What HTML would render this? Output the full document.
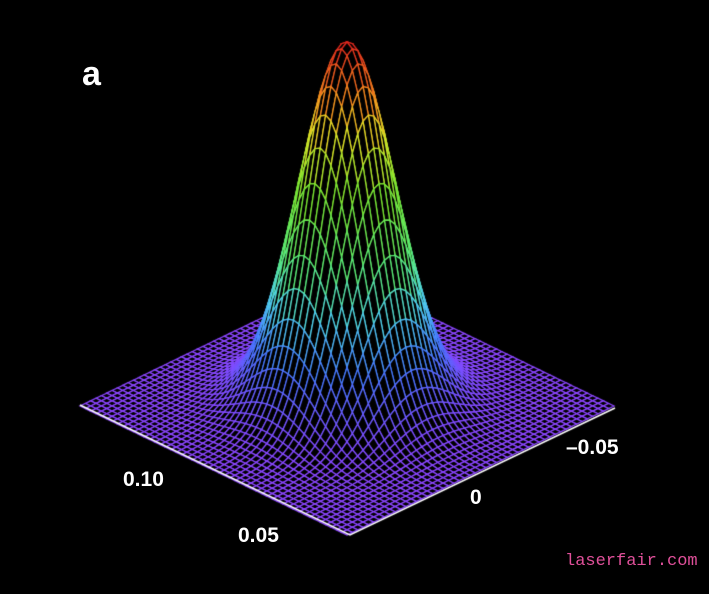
<!DOCTYPE html>
<html><head><meta charset="utf-8">
<style>
html,body{margin:0;padding:0;background:#000;}
#w{position:relative;width:709px;height:594px;overflow:hidden;background:#000;font-family:"Liberation Sans",sans-serif;}
canvas{position:absolute;left:0;top:0;}
.t{position:absolute;color:#fff;font-weight:bold;font-size:21px;}
</style></head><body>
<div id="w">
<canvas id="c" width="709" height="594"></canvas>
<div class="t" style="left:82px;top:55px;font-size:34px;">a</div>
<div class="t" style="left:123px;top:468px;">0.10</div>
<div class="t" style="left:238px;top:524px;">0.05</div>
<div class="t" style="left:470px;top:486px;">0</div>
<div class="t" style="left:566px;top:436px;">–0.05</div>
<div style="position:absolute;left:565px;top:552px;color:#e0509a;font-family:'Liberation Mono',monospace;font-size:17px;">laserfair.com</div>
</div>
<script>
const c=document.getElementById('c').getContext('2d');
const N=50,s=0.26;
function P(u,v){const z=Math.exp(-(u*u+v*v)/(2*s*s));return [347+133.5*(u+v),406+64.5*(u-v)-364*z,z];}
const stops=[[0,[140,70,255]],[0.06,[120,80,255]],[0.18,[70,120,255]],[0.3,[80,210,240]],[0.42,[90,235,120]],[0.6,[120,230,50]],[0.75,[225,230,40]],[0.85,[245,140,30]],[1,[220,30,30]]];
function col(z){for(let i=1;i<stops.length;i++){if(z<=stops[i][0]){const a=stops[i-1],b=stops[i],t=(z-a[0])/(b[0]-a[0]);return 'rgb('+a[1].map((x,k)=>Math.round(x+(b[1][k]-x)*t)).join(',')+')';}}return 'rgb(220,30,30)';}
const q=[];
for(let i=0;i<N;i++)for(let j=0;j<N;j++){const u0=-1+2*i/N,u1=-1+2*(i+1)/N,v0=-1+2*j/N,v1=-1+2*(j+1)/N;q.push({d:(u0+u1)/2-(v0+v1)/2,p:[P(u0,v0),P(u1,v0),P(u1,v1),P(u0,v1)]});}
q.sort((a,b)=>a.d-b.d);
c.lineWidth=1.3;
for(const o of q){const p=o.p;c.beginPath();c.moveTo(p[0][0],p[0][1]);for(let k=1;k<4;k++)c.lineTo(p[k][0],p[k][1]);c.closePath();c.fillStyle='#000';c.fill();const z=(p[0][2]+p[1][2]+p[2][2]+p[3][2])/4;c.strokeStyle=col(z);c.stroke();}
c.strokeStyle='#fff';c.lineWidth=1.5;c.beginPath();c.moveTo(80,405);c.lineTo(350,535);c.lineTo(615,408);c.stroke();
</script>
</body></html>
